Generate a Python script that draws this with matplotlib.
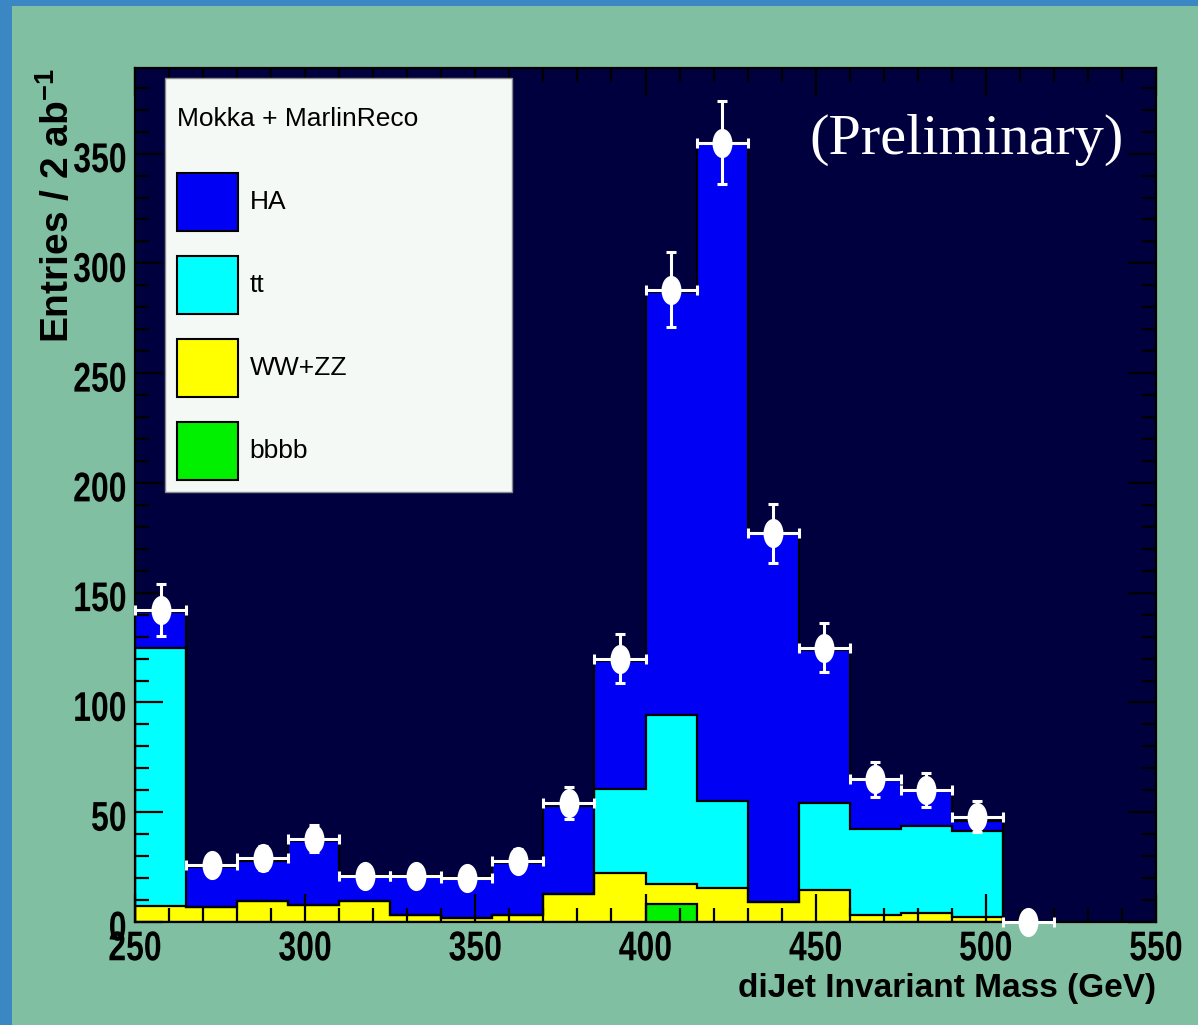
import numpy as np
import matplotlib.pyplot as plt
from matplotlib.patches import Patch, Rectangle
from matplotlib.path import Path
from matplotlib.transforms import Affine2D
from matplotlib.ticker import MultipleLocator
from matplotlib.patheffects import AbstractPathEffect

plt.rcParams['mathtext.fontset'] = 'custom'
plt.rcParams['mathtext.rm'] = 'Liberation Sans:bold'
plt.rcParams['mathtext.it'] = 'Liberation Sans:bold'

# bin edges of the dijet mass histogram (GeV)
bin_edges = [250, 265, 280, 295, 310, 325, 340, 355, 370, 385, 400, 415, 430, 445, 460, 475, 490, 505, 520]

# stacked MC contributions, bottom to top
bbbb = [0, 0, 0, 0, 0, 0, 0, 0, 0, 0, 8.0, 0, 0, 0, 0, 0, 0, 0]
ww_zz = [7.3, 6.7, 9.6, 7.6, 9.6, 3.2, 1.7, 3.0, 12.6, 22.5, 9.2, 15.7, 9.2, 14.7, 3.0, 4.0, 2.3, 0]
ttbar = [117.3, 0, 0, 0, 0, 0, 0, 0, 0, 38.3, 77.2, 39.3, 0, 39.5, 39.4, 39.7, 39.1, 0]
ha = [16.4, 18.3, 18.4, 29.4, 11.7, 18.1, 18.6, 24.0, 40.4, 58.0, 192.4, 299.7, 167.8, 69.8, 22.2, 15.8, 4.8, 0]

# pseudo data points
data = [142, 26, 29, 38, 21, 21, 20, 28, 54, 120, 288, 355, 177, 125, 65, 60, 48, 0]
data_err = [11.9, 5.1, 5.4, 6.2, 4.6, 4.6, 4.5, 5.3, 7.3, 11.0, 17.0, 18.8, 13.3, 11.2, 8.1, 7.7, 6.9, 0]

labels = ['HA', 'tt', 'WW+ZZ', 'bbbb']
colors = ['#0000F5', '#00FFFF', '#FFFF00', '#00F000']


class TallText(AbstractPathEffect):
    """Stretch glyphs vertically about the baseline (the original is squashed)."""

    def __init__(self, sy, dy=0.0):
        super().__init__()
        self.sy = sy
        self.dy = dy

    def draw_path(self, renderer, gc, tpath, affine, rgbFace=None):
        shift = Affine2D().translate(0, -renderer.points_to_pixels(self.dy))
        renderer.draw_path(gc, tpath, Affine2D().scale(1.0, self.sy) + affine + shift, rgbFace)


edges = np.array(bin_edges, dtype=float)
centers = 0.5 * (edges[:-1] + edges[1:])
half_width = 0.5 * np.diff(edges)

fig = plt.figure(figsize=(11.98, 10.25), dpi=100, facecolor='#80BFA2')
# blue textured slide border on left and top
fig.add_artist(Rectangle((0, 0), 12 / 1198, 1, transform=fig.transFigure,
                         facecolor='#3A87C4', edgecolor='none'))
fig.add_artist(Rectangle((0, 1 - 6 / 1025), 1, 6 / 1025, transform=fig.transFigure,
                         facecolor='#3A87C4', edgecolor='none'))

ax = fig.add_axes([135 / 1198, 103 / 1025, 1021 / 1198, 854 / 1025])
ax.set_facecolor('#00003F')

# cumulative stack, drawn from the top layer down like THStack
layers = np.vstack([bbbb, ww_zz, ttbar, ha])
cum = np.cumsum(layers, axis=0)
stack_colors = colors[::-1]
for i in range(3, -1, -1):
    ax.stairs(cum[i], edges, fill=True, color=stack_colors[i], zorder=1)
    ax.stairs(cum[i], edges, color='black', lw=1.6, zorder=1.1)

# elongated marker, as in the stretched original
ellipse = Path.unit_circle().transformed(Affine2D().scale(1.0, 1.5))
ax.errorbar(centers, data, xerr=half_width, yerr=data_err, fmt='none',
            ecolor='white', elinewidth=2.2, capsize=3.5, capthick=2.2,
            clip_on=False, zorder=5)
ax.plot(centers, data, linestyle='none', marker=ellipse, markersize=20,
        color='white', markeredgecolor='white', clip_on=False, zorder=6)

ax.set_xlim(250, 550)
ax.set_ylim(0, 389)
ax.set_xticks(range(250, 551, 50))
ax.set_yticks(range(0, 351, 50))
ax.xaxis.set_minor_locator(MultipleLocator(10))
ax.yaxis.set_minor_locator(MultipleLocator(10))
ax.tick_params(which='both', direction='in', top=True, right=True,
               color='black', width=1.6)
ax.tick_params(which='major', length=20)
ax.tick_params(which='minor', length=10)
ax.tick_params(axis='x', pad=11)
ax.tick_params(axis='y', pad=6)
for lbl in ax.get_xticklabels():
    lbl.set_family('Liberation Sans')
    lbl.set_fontweight('bold')
    lbl.set_fontsize(23)
    lbl.set_path_effects([TallText(1.3)])
for lbl in ax.get_yticklabels():
    lbl.set_family('Liberation Sans')
    lbl.set_fontweight('bold')
    lbl.set_fontsize(23)
    lbl.set_path_effects([TallText(1.3, dy=5)])
for sp in ax.spines.values():
    sp.set_color('black')
    sp.set_linewidth(1.6)

ax.set_xlabel('diJet Invariant Mass (GeV)', loc='right', fontsize=24,
              fontweight='bold', family='Liberation Sans', labelpad=4)
ax.set_ylabel('Entries / 2 ab$^{-1}$', loc='top', fontsize=28,
              fontweight='bold', family='Liberation Sans', labelpad=-3)

handles = [Patch(facecolor=c, edgecolor='black', lw=1.5, label=l)
           for c, l in zip(colors, labels)]
leg = ax.legend(handles=handles, title='\nMokka + MarlinReco\n', loc='upper left',
                bbox_to_anchor=(0.0294, 0.0, 0.34, 0.988), mode='expand',
                borderaxespad=0, prop=dict(family='Liberation Sans', size=19),
                title_fontproperties=dict(family='Liberation Sans', size=19),
                handlelength=2.3, handleheight=3.0, labelspacing=0.95,
                handletextpad=0.45, borderpad=0.45, alignment='left',
                fancybox=False, framealpha=1, facecolor='#F5F9F5',
                edgecolor='#8A8A8A')
leg.get_title().set_linespacing(0.62)
leg.get_frame().set_linewidth(1.0)
leg.set_zorder(10)

ax.text(0.814, 0.916, '(Preliminary)', transform=ax.transAxes, ha='center',
        va='center', color='white', family='Liberation Serif', fontsize=42)

fig.savefig('out.png', dpi=100, facecolor=fig.get_facecolor())
